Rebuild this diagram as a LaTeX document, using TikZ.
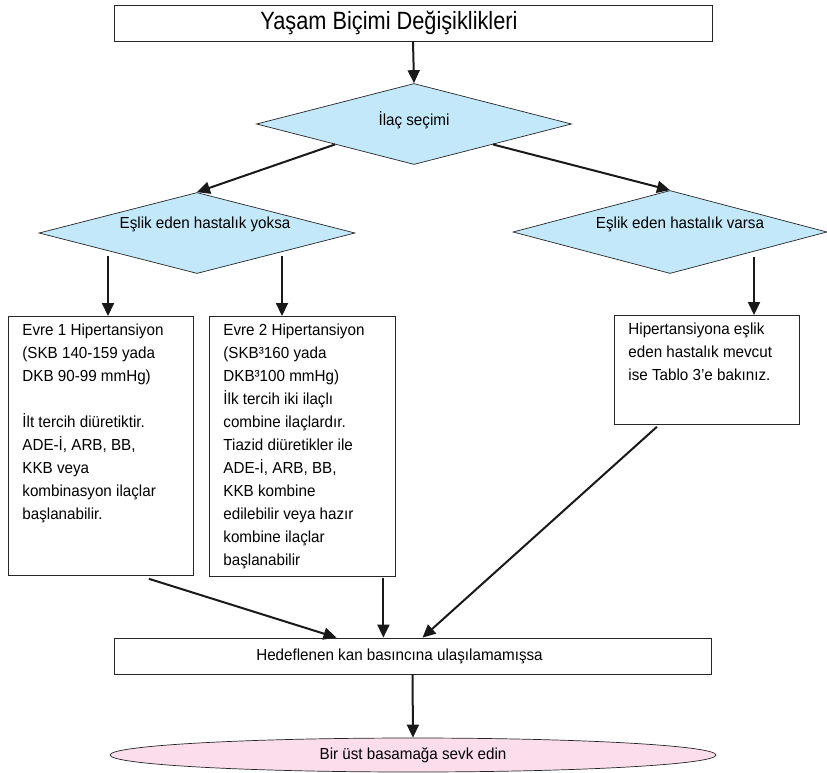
\documentclass[tikz,border=0pt]{standalone}
\usepackage{fontspec}
\setmainfont[FakeStretch=0.95]{Liberation Sans}
\newfontfamily\baslikfont[FakeStretch=0.87]{Liberation Sans}
\usepackage{tikz}
\usetikzlibrary{arrows.meta}
\usetikzlibrary{shapes.geometric}
\colorlet{kenar}{black!85}
\definecolor{mavi}{RGB}{194,232,249}
\definecolor{pembe}{RGB}{251,221,236}
\newcommand\satir{\fontsize{16}{23}\selectfont}
\newcommand\baslik{\baslikfont\fontsize{25}{30}\selectfont}
\tikzstyle{kutu}=[draw=kenar,line width=.8pt,inner sep=0pt]
\tikzstyle{metin}=[kutu,anchor=north west,inner xsep=14pt,inner ysep=7pt]
\tikzstyle{karar}=[draw=kenar,line width=.7pt,fill=mavi,shape=diamond,shape aspect=3.9,inner sep=0pt]
\tikzstyle{son}=[draw=kenar,line width=.7pt,fill=pembe,shape=ellipse,inner sep=0pt]
\tikzstyle{ok}=[line width=2pt,draw=black!90,-{Triangle[length=13pt,width=12pt]}]

\begin{document}
\begin{tikzpicture}[x=1pt,y=-1pt,font=\satir]
	\useasboundingbox (0,0) rectangle (827,772);
	\node[kutu,minimum width=598pt,minimum height=36pt] (yasam) at (413,23) {\hspace*{-48pt}{\baslik Yaşam Biçimi Değişiklikleri}};
	\node[karar,minimum width=315pt,minimum height=81pt] (ilac) at (414,124) {\raisebox{3pt}[11pt][3pt]{İlaç seçimi}};
	\node[karar,minimum width=316pt,minimum height=81pt] (yok) at (197,233) {\raisebox{9pt}[11pt][3pt]{\hspace*{16pt}Eşlik eden hastalık yoksa}};
	\node[karar,minimum width=314pt,minimum height=83pt] (var) at (670,232) {\raisebox{8pt}[11pt][3pt]{\hspace*{20pt}Eşlik eden hastalık varsa}};
	\node[metin] (evre1) at (8,316) {\parbox[t][245pt][t]{157pt}{Evre 1 Hipertansiyon\\(SKB 140-159 yada\\DKB 90-99 mmHg)\\[23pt]İlt tercih diüretiktir.\\ADE-İ, ARB, BB,\\KKB veya\\kombinasyon ilaçlar\\başlanabilir.}};
	\node[metin] (evre2) at (209,316) {\parbox[t][246pt][t]{158pt}{Evre 2 Hipertansiyon\\(SKB³160 yada\\DKB³100 mmHg)\\İlk tercih iki ilaçlı\\combine ilaçlardır.\\Tiazid diüretikler ile\\ADE-İ, ARB, BB,\\KKB kombine\\edilebilir veya hazır\\kombine ilaçlar\\başlanabilir}};
	\node[metin] (tablo) at (614,315) {\parbox[t][95pt][t]{157pt}{Hipertansiyona eşlik\\eden hastalık mevcut\\ise Tablo 3’e bakınız.}};
	\node[kutu,minimum width=597pt,minimum height=36pt] (hedef) at (412.5,656) {\hspace*{-26pt}Hedeflenen kan basıncına ulaşılamamışsa};
	\node[son,minimum width=606pt,minimum height=34pt] (sevk) at (413,755) {Bir üst basamağa sevk edin};
	% baglantilar
	\coordinate (yok1) at (108,256);
	\coordinate (yok2) at (282,256);
	\coordinate (var1) at (754,257);
	\coordinate (e2out) at ([xshift=81pt]evre2.south);
	\draw[ok] (yasam.south) -- (ilac.north);
	\draw[ok] (ilac.south west) -- (yok.north);
	\draw[ok] (ilac.south east) -- (var.north);
	\draw[ok] (yok1) -- (yok1 |- evre1.north);
	\draw[ok] (yok2) -- (yok2 |- evre2.north);
	\draw[ok] (var1) -- (var1 |- tablo.north);
	\draw[ok] ([shift={(48,3)}]evre1.south) -- ([xshift=-76pt]hedef.north);
	\draw[ok] ([yshift=-1pt]e2out) -- (e2out |- hedef.north);
	\draw[ok] ([shift={(-50,2)}]tablo.south) -- ([xshift=10pt]hedef.north);
	\draw[ok] (hedef.south) -- (sevk.north);
\end{tikzpicture}
\end{document}
